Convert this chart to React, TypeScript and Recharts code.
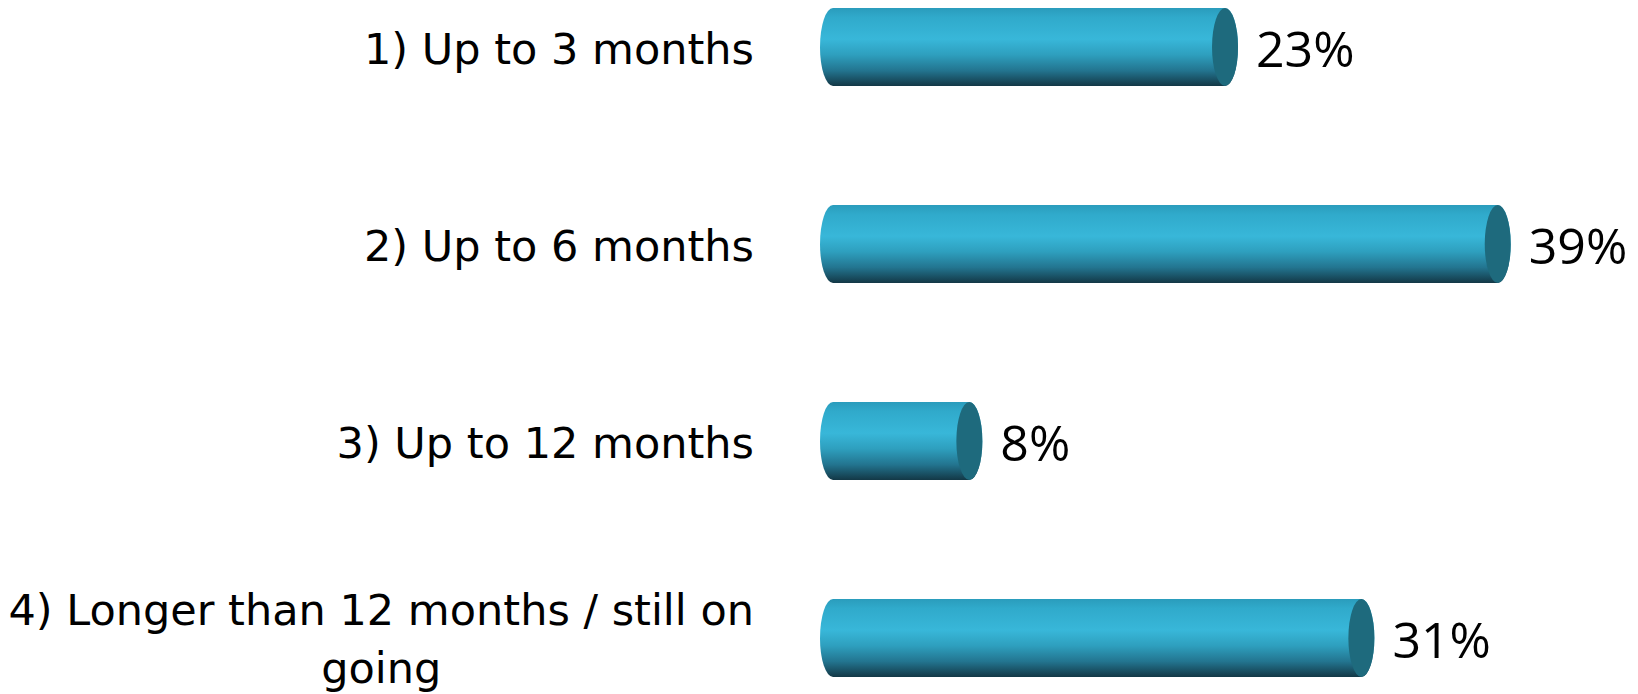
import React from 'react';
import { BarChart, Bar, XAxis, YAxis, LabelList } from 'recharts';

const categories = [
  '1) Up to 3 months',
  '2) Up to 6 months',
  '3) Up to 12 months',
  '4) Longer than 12 months / still on\ngoing',
];
const shares = [23, 39, 8, 31];
const shareLabels = ['23%', '39%', '8%', '31%'];

const data = categories.map((c, i) => ({ cat: c, v: shares[i], lbl: shareLabels[i] }));

const CAT_SIZE = 43;
const CAT_FONT = `${CAT_SIZE}px "DejaVu Sans"`;
let ctx: CanvasRenderingContext2D | null = null;
function measure(t: string): number {
  if (!ctx) {
    const c = document.createElement('canvas');
    ctx = c.getContext('2d');
  }
  if (!ctx) return t.length * 22;
  ctx.font = CAT_FONT;
  return ctx.measureText(t).width;
}

const CatTick = (props: any) => {
  const { x, y, payload } = props;
  const lines = String(payload.value).split('\n');
  if (lines.length === 1) {
    return (
      <text x={x} y={y + 17} textAnchor="end" fontFamily="DejaVu Sans" fontSize={CAT_SIZE} fill="#000">
        {lines[0]}
      </text>
    );
  }
  const maxW = Math.max(...lines.map(measure));
  const cx = x - maxW / 2;
  const lh = 58;
  const start = y + 16 - (lh * (lines.length - 1)) / 2;
  return (
    <g>
      {lines.map((l, i) => (
        <text key={i} x={cx} y={start + i * lh} textAnchor="middle" fontFamily="DejaVu Sans" fontSize={CAT_SIZE} fill="#000">
          {l}
        </text>
      ))}
    </g>
  );
};

const Cylinder = (props: any) => {
  const { x, y, width, height } = props;
  const rx = 13;
  const ry = height / 2;
  const x1 = x + width;
  const d = `M ${x} ${y} L ${x1} ${y} A ${rx} ${ry} 0 0 1 ${x1} ${y + height} L ${x} ${y + height} A ${rx} ${ry} 0 0 1 ${x} ${y} Z`;
  return (
    <g>
      <path d={d} fill="url(#cylGrad)" />
      <ellipse cx={x1} cy={y + ry} rx={rx} ry={ry} fill="#1e6a7d" />
    </g>
  );
};

const ValueLabel = (props: any) => {
  const { x, y, width, height, value } = props;
  return (
    <text x={x + width + 31} y={y + height / 2 + 20} fontFamily="Open Sans" fontSize={50} fill="#000">
      {value}
    </text>
  );
};

export default function App() {
  return (
    <div style={{ position: 'absolute', left: 0, top: 0, width: 1638, height: 694, overflow: 'hidden', background: '#fff' }}>
      <div style={{ position: 'absolute', left: 0, top: -52 }}>
        <BarChart
          width={1638}
          height={788}
          data={data}
          layout="vertical"
          margin={{ top: 0, right: 38, bottom: 0, left: 0 }}
        >
          <defs>
            <linearGradient id="cylGrad" x1="0" y1="0" x2="0" y2="1">
              <stop offset="0%" stopColor="#2a9cbc" />
              <stop offset="12%" stopColor="#30aacb" />
              <stop offset="40%" stopColor="#38b7d9" />
              <stop offset="60%" stopColor="#2e9fbe" />
              <stop offset="80%" stopColor="#237590" />
              <stop offset="100%" stopColor="#133846" />
            </linearGradient>
          </defs>
          <XAxis type="number" domain={[0, 45]} hide />
          <YAxis
            type="category"
            dataKey="cat"
            width={833}
            axisLine={false}
            tickLine={false}
            tickSize={0}
            tickMargin={79}
            tick={<CatTick />}
            interval={0}
          />
          <Bar dataKey="v" barSize={78} shape={<Cylinder />} isAnimationActive={false}>
            <LabelList dataKey="lbl" content={<ValueLabel />} />
          </Bar>
        </BarChart>
      </div>
    </div>
  );
}
